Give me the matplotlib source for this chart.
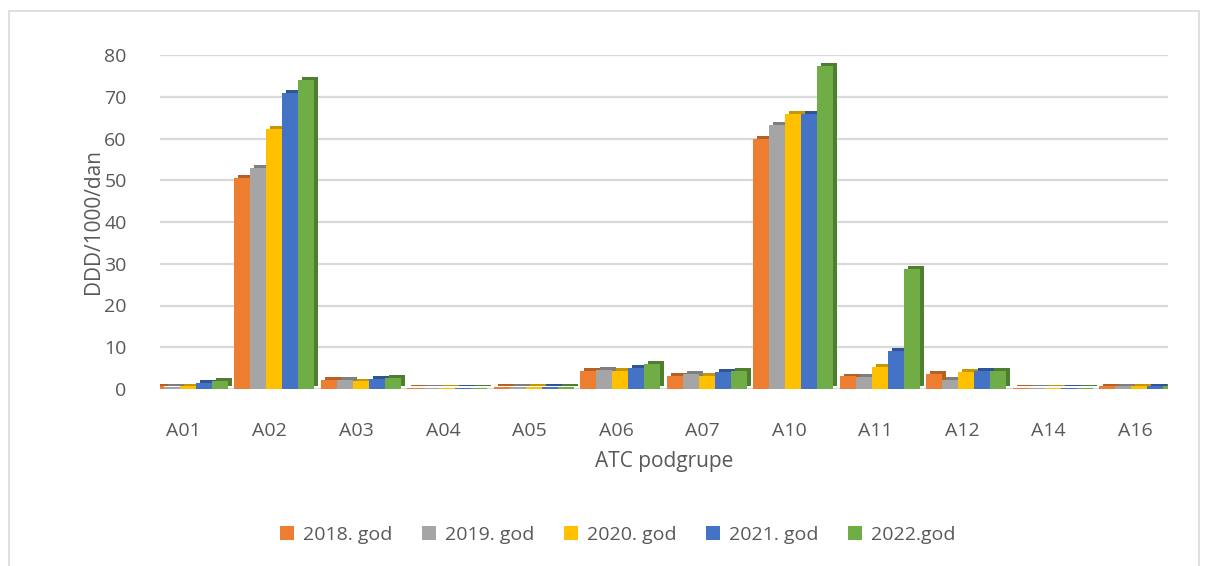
import numpy as np
import matplotlib

matplotlib.use("Agg")
import matplotlib.pyplot as plt
from matplotlib.patches import Rectangle

plt.rcParams["font.family"] = ["Open Sans", "DejaVu Sans"]

categories = ["A01", "A02", "A03", "A04", "A05", "A06", "A07", "A10", "A11", "A12", "A14", "A16"]
series = ["2018. god", "2019. god", "2020. god", "2021. god", "2022.god"]
v2018 = [0.6, 50.5, 2.2, 0.2, 0.4, 4.3, 3.2, 60.0, 3.0, 3.5, 0.2, 0.6]
v2019 = [0.5, 53.0, 2.2, 0.2, 0.4, 4.6, 3.6, 63.2, 2.9, 2.2, 0.2, 0.6]
v2020 = [0.6, 62.3, 1.8, 0.2, 0.4, 4.3, 3.2, 65.8, 5.2, 4.0, 0.2, 0.6]
v2021 = [1.5, 70.8, 2.5, 0.2, 0.4, 5.0, 4.0, 65.8, 9.2, 4.3, 0.2, 0.6]
v2022 = [2.0, 74.0, 2.7, 0.2, 0.5, 6.1, 4.3, 77.3, 28.8, 4.3, 0.2, 0.6]
extra_a01 = 1.0  # stray light-blue bar in the A01 group

colors = ["#ED7D31", "#A5A5A5", "#FFC000", "#4472C4", "#70AD47"]
dark = ["#B85F22", "#7F7F7F", "#C79600", "#2F5597", "#4E7F30"]
values = [v2018, v2019, v2020, v2021, v2022]

fig = plt.figure(figsize=(12.11, 5.66), dpi=100)
fig.patches.append(Rectangle((9 / 1211, -0.01), 1190 / 1211, 1 - 11 / 566 + 0.01,
                             transform=fig.transFigure, fill=False,
                             edgecolor="#D9D9D9", lw=1.2))
ax = fig.add_axes([160 / 1211, 1 - 389 / 566, 1008 / 1211, 334 / 566])

x = np.arange(len(categories))
w = 0.185
dx, dy = 0.045, 0.7
offsets = (np.arange(5) - 2) * w + 0.05

# light blue bar at A01
ax.bar(x[0] + offsets[0] - w * 0.55 + dx, extra_a01, w, bottom=dy, color="#3F78B0", zorder=2)
ax.bar(x[0] + offsets[0] - w * 0.55, extra_a01, w, color="#5B9BD5", zorder=3)

for i, (vals, c, d) in enumerate(zip(values, colors, dark)):
    ax.bar(x + offsets[i] + dx, vals, w, bottom=dy, color=d, zorder=2 + i * 2)
    ax.bar(x + offsets[i], vals, w, color=c, zorder=3 + i * 2, label=series[i])

ax.set_xlim(-0.27, 11.38)
ax.set_ylim(0, 80)
ax.set_yticks(range(0, 81, 10))
ax.set_xticks(x)
ax.set_xticklabels(categories)
ax.yaxis.grid(True, color="#D9D9D9", lw=1.6, zorder=0)
ax.set_axisbelow(True)
for s in ax.spines.values():
    s.set_visible(False)
ax.tick_params(length=0, labelsize=14, colors="#595959")
ax.tick_params(axis="y", pad=24)
ax.tick_params(axis="x", pad=24)
ax.set_ylabel("DDD/1000/dan", fontsize=15, color="#595959", labelpad=0)
ax.set_xlabel("ATC podgrupe", fontsize=15, color="#595959", labelpad=8)

fig.legend(loc="center", bbox_to_anchor=(0.51, 1 - 535 / 566), ncol=5, frameon=False,
           fontsize=14, handlelength=0.75, handleheight=0.75, handletextpad=0.45,
           columnspacing=1.5, labelcolor="#595959")

fig.savefig("out.png", dpi=100)
